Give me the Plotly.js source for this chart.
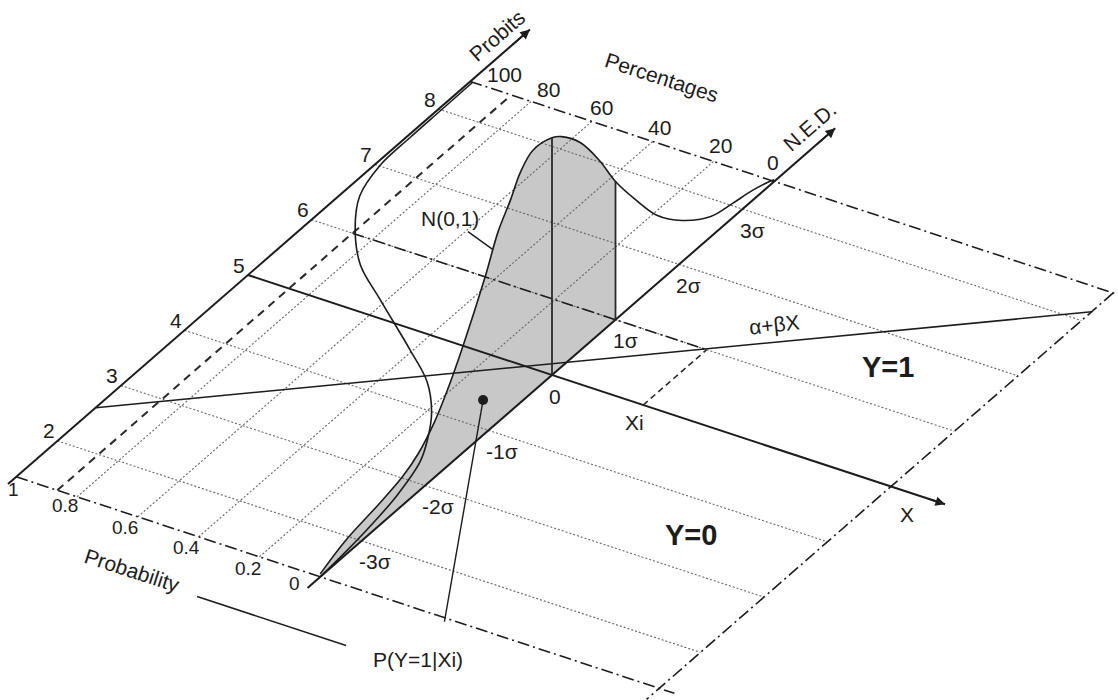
<!DOCTYPE html>
<html><head><meta charset="utf-8">
<script src="https://cdn.plot.ly/plotly-3.0.1.min.js"></script>
<style>html,body{margin:0;padding:0;background:#fff}#chart{width:1118px;height:700px}</style>
</head><body><div id="chart"></div>
<script>
// ---------------- data ----------------
const probabilityTicks  = [0, 0.2, 0.4, 0.6, 0.8, 1];
const probabilityLabels = ['0', '0.2', '0.4', '0.6', '0.8', '1'];
const probitTicks  = [2, 3, 4, 5, 6, 7, 8];
const probitLabels = ['2', '3', '4', '5', '6', '7', '8'];
const nedTicks  = [-3, -2, -1, 0, 1, 2, 3];
const nedLabels = ['-3σ', '-2σ', '-1σ', '0', '1σ', '2σ', '3σ'];
const percentageTicks  = [100, 80, 60, 40, 20, 0];
const percentageLabels = ['100', '80', '60', '40', '20', '0'];

// N(0,1) density as drawn over the N.E.D. axis
const pdfNED   = [-3.65, -3.25, -2.7, -2.35, -2.1, -1.85, -1.65, -1.4, -1.05, -0.85, -0.65, -0.5, -0.3, 0, 0.15, 0.45, 0.75, 1.0, 1.3, 1.65, 2.05, 2.5, 2.85, 3.15, 3.4, 3.5];
const pdfValue = [0.005, 0.024, 0.037, 0.048, 0.064, 0.093, 0.127, 0.179, 0.263, 0.319, 0.355, 0.386, 0.405, 0.398, 0.386, 0.348, 0.290, 0.232, 0.175, 0.115, 0.069, 0.034, 0.024, 0.017, 0.008, 0.003];

// cumulative curve (probability against N.E.D.) drawn in the floor plane
const cdfNED  = [-3.65, -3.2, -2.75, -2.25, -1.71, -1.38, -1.02, -0.63, -0.28, 0.25, 0.62, 1.07, 1.52, 2.0, 2.5, 3.0, 3.5];
const cdfProb = [0.0, 0.008, 0.02, 0.04, 0.077, 0.121, 0.183, 0.279, 0.409, 0.618, 0.76, 0.871, 0.95, 0.985, 0.99, 0.991, 0.992];

// floor extent: X/probability direction and N.E.D. direction
const floorX   = [-1, 1.115];
const floorNED = [-3.65, 3.5];

// regression line alpha + beta X (NED at the two ends of the floor)
const regressionX   = [-1, 1.115];
const regressionNED = [-2.4, 3.16];

const xiValue  = [0.3];
const xiNED    = [1.0];
const xiProb   = [0.865];

// marked point and its pointer end
const pointX   = [-0.096];
const pointNED = [-0.626];
const pointerEndX = [0.419];

// ---------------- projection (layout) ----------------
const O = [552, 375];        // pixel of the origin
const U = [304, 100];        // one X / probability unit
const V = [63.5, -55.3];     // one sigma along N.E.D.
const HS = 596;              // vertical pixels per density unit
function P(u, t, d) { d = d || 0; return [O[0] + u * U[0] + t * V[0], O[1] + u * U[1] + t * V[1] - d * HS]; }
function pdfAt(t) {
  for (let i = 0; i < pdfNED.length - 1; i++) {
    if (t >= pdfNED[i] && t <= pdfNED[i + 1]) {
      const f = (t - pdfNED[i]) / (pdfNED[i + 1] - pdfNED[i]);
      return pdfValue[i] + f * (pdfValue[i + 1] - pdfValue[i]);
    }
  }
  return 0;
}

const INK = '#1c1c1c';
const FONT = 'Liberation Sans, Arial, Helvetica, sans-serif';
const traces = [];
function addLines(segs, line, extra) {
  const x = [], y = [];
  segs.forEach(s => { s.forEach(p => { x.push(p[0]); y.push(p[1]); }); x.push(null); y.push(null); });
  traces.push(Object.assign({ type: 'scatter', mode: 'lines', x, y, hoverinfo: 'skip', line }, extra || {}));
}

const u0 = floorX[0], u1 = floorX[1], t0 = floorNED[0], t1 = floorNED[1];

// shaded area under the density up to Xi's N.E.D. value
addLines([[P(0, t0), P(0, xiNED[0])]], { width: 0, color: 'rgba(0,0,0,0)' });
const shadeIdx = pdfNED.map((t, i) => i).filter(i => pdfNED[i] <= xiNED[0]);
addLines([shadeIdx.map(i => P(0, pdfNED[i], pdfValue[i]))], { width: 0, shape: 'spline', color: 'rgba(0,0,0,0)' },
  { fill: 'tonexty', fillcolor: '#c8c8c8' });

// dotted grid
const gridSegs = [];
probitTicks.filter(p => p !== 5).forEach(p => gridSegs.push([P(u0, p - 5), P(u1, p - 5)]));
probabilityTicks.filter(p => p > 0 && p < 1).forEach(p => gridSegs.push([P(-p, t0), P(-p, t1)]));
addLines(gridSegs, { width: 1.1, color: '#666666', dash: '2px,2px' });

// dash-dot frame and reading line
addLines([
  [P(u0, t1), P(u1 + 0.01, t1)],
  [P(u0, t0), P(u1 + 0.05, t0)],
  [P(u1, t1), P(u1, t0 - 0.2)],
  [P(-xiProb[0], xiNED[0]), P(xiValue[0], xiNED[0])]
], { width: 1.6, color: INK, dash: '12px,4px,2px,4px' });

// dashed probability line and Xi line
addLines([[P(-xiProb[0], t0), P(-xiProb[0], t1)]], { width: 2, color: '#2a2a2a', dash: '8px,6px' });
addLines([[P(xiValue[0], 0), P(xiValue[0], xiNED[0])]], { width: 1.6, color: '#2a2a2a', dash: '6px,4px' });

// axes
const probitEnd = 4.44, nedEnd = 4.46, xEnd = 1.293;
addLines([
  [P(u0, t0 - 0.13), P(u0, probitEnd)],
  [P(0, t0 - 0.2), P(0, nedEnd)],
  [P(u0, 0), P(xEnd, 0)]
], { width: 2, color: INK });

// regression line
addLines([[P(regressionX[0], regressionNED[0]), P(regressionX[1], regressionNED[1])]], { width: 1.6, color: INK });

// verticals under the density
addLines([[P(0, 0), P(0, 0, pdfAt(0))], [P(0, xiNED[0]), P(0, xiNED[0], pdfAt(xiNED[0]))]], { width: 1.8, color: '#2a2a2a' });

// density curve
addLines([pdfNED.map((t, i) => P(0, t, pdfValue[i]))], { width: 1.6, color: INK, shape: 'spline', smoothing: 1 });

// cumulative curve
addLines([cdfNED.map((t, i) => P(-cdfProb[i], t))], { width: 1.6, color: INK, shape: 'spline', smoothing: 1 });

// pointer line and probability underline
addLines([[P(pointX[0], pointNED[0]), P(pointerEndX[0], t0 - 0.05)]], { width: 1.4, color: INK });
addLines([[P(-0.24, -4.44), P(0.25, -4.44)]], { width: 1.5, color: INK });

// marked point
const dp = P(pointX[0], pointNED[0]);
traces.push({ type: 'scatter', mode: 'markers', x: [dp[0]], y: [dp[1]], hoverinfo: 'skip', marker: { size: 10, color: INK } });

// ---------------- annotations ----------------
const ann = [];
function arrow(from, to) {
  ann.push({ x: to[0], y: to[1], ax: from[0], ay: from[1], xref: 'x', yref: 'y', axref: 'x', ayref: 'y',
    showarrow: true, arrowhead: 2, arrowsize: 1.2, arrowwidth: 1.6, arrowcolor: INK, text: '', standoff: 0 });
}
arrow(P(u0, probitEnd - 0.3), P(u0, probitEnd));
arrow(P(0, nedEnd - 0.3), P(0, nedEnd));
arrow(P(xEnd - 0.06, 0), P(xEnd, 0));

function label(pt, text, o) {
  o = o || {};
  ann.push({ x: pt[0] + (o.dx || 0), y: pt[1] + (o.dy || 0), xref: 'x', yref: 'y', text, showarrow: false,
    xanchor: o.xanchor || 'center', yanchor: 'middle', textangle: o.angle || 0,
    font: { family: FONT, size: o.size || 21, color: INK } });
}
probitTicks.forEach((p, i) => label(P(u0, p - 5), probitLabels[i], { dx: -9, dy: -10 }));
nedTicks.forEach((t, i) => label(P(0, t), nedLabels[i], { dx: -5, dy: 21, xanchor: 'left' }));
const pctNudge = [[34, -7], [17, -12], [10, -14], [7, -14], [7, -16], [-1, -19]];
percentageTicks.forEach((p, i) => label(P(-p / 100, t1), percentageLabels[i], { dx: pctNudge[i][0], dy: pctNudge[i][1] }));
const probNudge = [[-26, 6.5], [-11, 11.5], [-12, 10.5], [-12.6, 10.5], [-12, 8.5], [-3, 12.5]];
probabilityTicks.forEach((p, i) => label(P(-p, t0), probabilityLabels[i], { dx: probNudge[i][0], dy: probNudge[i][1], size: 19 }));

label(P(-1.0635, 4.225), 'Probits', { angle: -41 });
label(P(-0.064, 4.369), 'N.E.D.', { angle: -41 });
label(P(-0.554, 4.386), 'Percentages', { angle: 18 });
label(P(-0.466, -4.369), 'Probability', { angle: 18 });
label(P(0.395, 1.619), 'α+βX', { angle: -6 });
label(P(0.78, 1.55), '<b>Y=1</b>', { size: 29 });
label(P(0.77, -1.5), '<b>Y=0</b>', { size: 29 });
label(P(1.231, -0.305), 'X');
label(P(0.325, -0.263), 'Xi');
label(P(0.459, -4.306), 'P(Y=1|Xi)');

// N(0,1) callout pointing at the density curve
const cp = P(0, -0.93, pdfAt(-0.93));
ann.push({ x: cp[0], y: cp[1], xref: 'x', yref: 'y', text: 'N(0,1)', showarrow: true, arrowhead: 0,
  arrowwidth: 1.4, arrowcolor: INK, ax: -43, ay: -31, standoff: 0,
  font: { family: FONT, size: 21, color: INK } });

Plotly.newPlot('chart', traces, {
  width: 1118, height: 700, margin: { l: 0, r: 0, t: 0, b: 0 },
  paper_bgcolor: '#ffffff', plot_bgcolor: '#ffffff', showlegend: false,
  xaxis: { range: [0, 1118], visible: false, fixedrange: true },
  yaxis: { range: [700, 0], visible: false, fixedrange: true },
  annotations: ann
}, { staticPlot: true, displayModeBar: false });
</script>
</body></html>
